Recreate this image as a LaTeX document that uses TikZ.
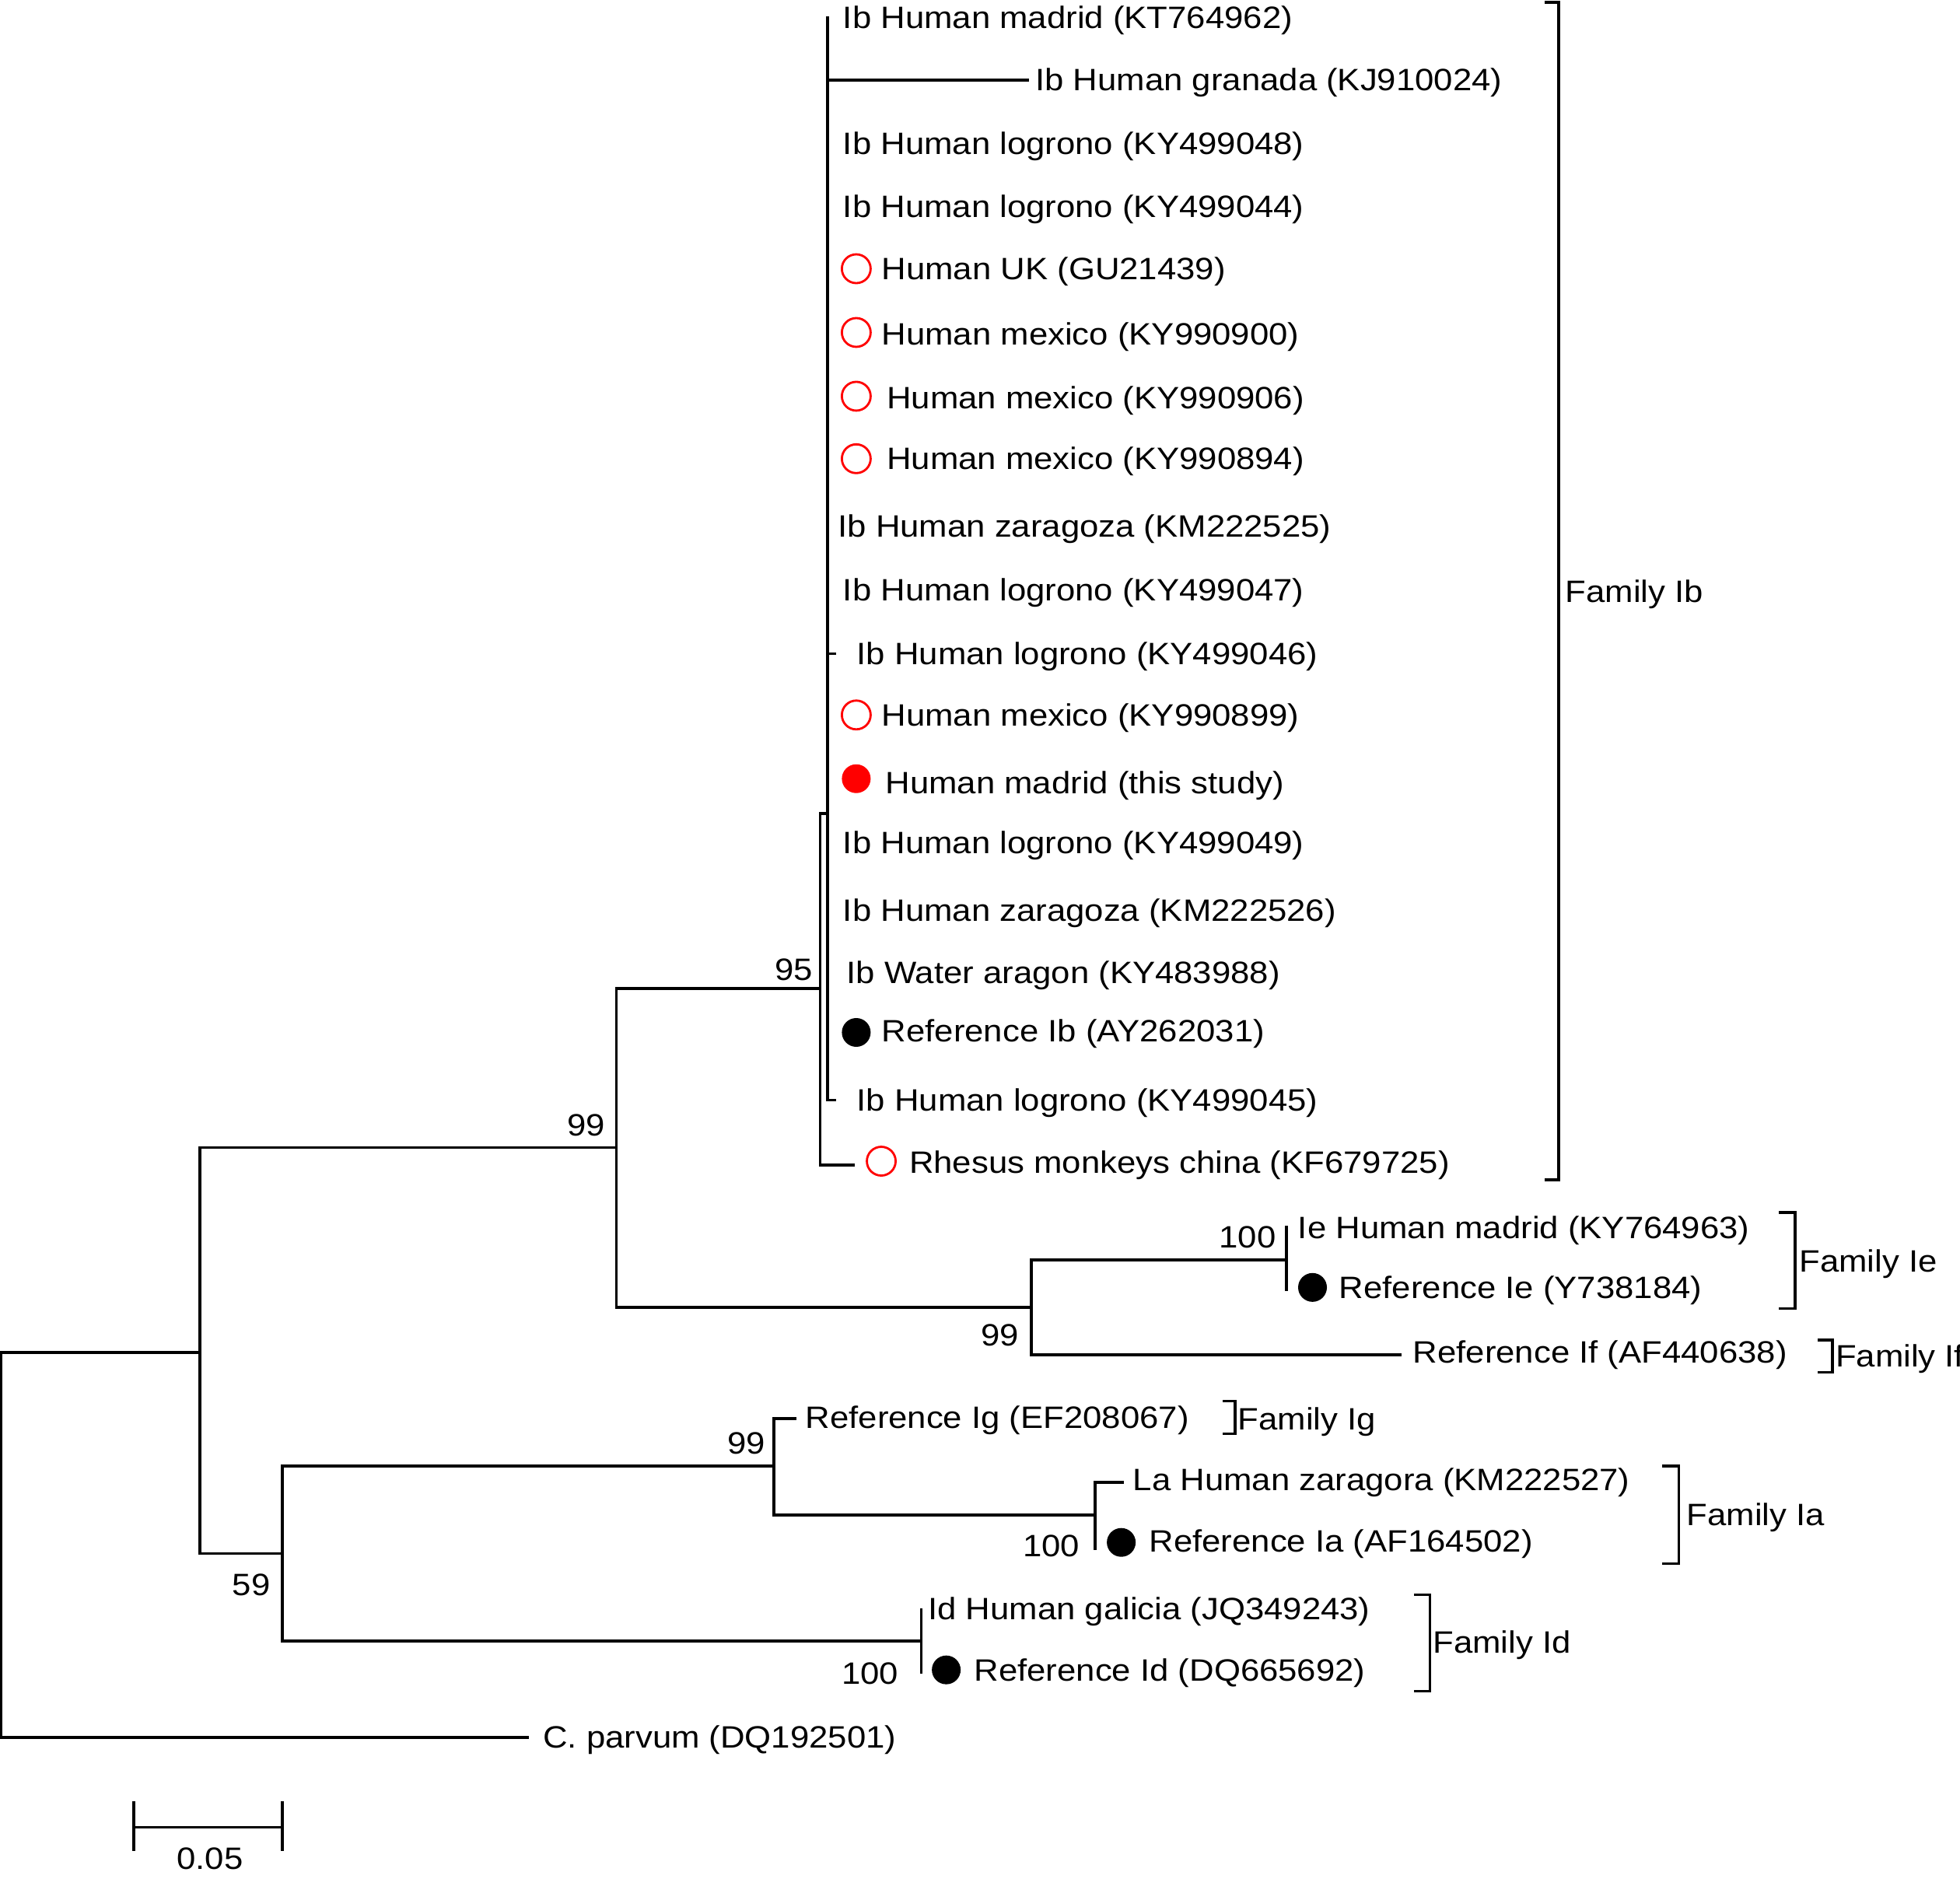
\documentclass[tikz,border=0pt]{standalone}
\usepackage{fontspec}
\setmainfont{Liberation Sans}[FakeStretch=1.1]
\usetikzlibrary{positioning}
\tikzset{
  branch/.style={line width=1pt, line cap=rect},
  taxon/.style={anchor=base west, inner sep=0pt, yshift=-4pt, font=\fontsize{11.3}{13}\selectfont},
  boot/.style={inner sep=0pt, font=\fontsize{11.3}{13}\selectfont},
  openmark/.style={circle, draw=red, line width=0.8pt, minimum size=0.37cm, inner sep=0pt},
  fullmark/.style={circle, fill=#1, minimum size=0.37cm, inner sep=0pt},
  fullmark/.default=black
}

\begin{document}
\begin{tikzpicture}[x=0.0160714cm, y=-0.0160714cm]
\useasboundingbox (0,0) rectangle (1568,1503);

\coordinate (R) at (1,1236);
\coordinate (A) at (160,1082);
\coordinate (B) at (493,918);
\coordinate (C) at (226,1243);
\coordinate (Ib) at (656,791);
\coordinate (Ibi) at (662,651);
\coordinate (IeIf) at (825,1046);
\coordinate (Ie) at (1029,1008);
\coordinate (IgIa) at (619,1173);
\coordinate (Ia) at (876,1212);
\coordinate (Id) at (737,1313);

\coordinate (t1) at (662,14);
\coordinate (t2) at (822,64);
\coordinate (t11) at (668,523);
\coordinate (t18) at (668,880);
\coordinate (t19) at (683,932);
\coordinate (t20) at (1029,982);
\coordinate (t21) at (1029,1032);
\coordinate (t22) at (1120,1084);
\coordinate (t23) at (636,1135);
\coordinate (t24) at (898,1186);
\coordinate (t25) at (876,1239);
\coordinate (t26) at (737,1288);
\coordinate (t27) at (737,1338);
\coordinate (t28) at (422,1390);

\begin{scope}[branch]
\draw (R) |- (A);
\draw (R) |- (t28);
\draw (A) |- (B);
\draw (A) |- (C);
\draw (B) |- (Ib);
\draw (B) |- (IeIf);
\draw (Ib) |- (Ibi);
\draw (Ib) |- (t19);
\draw (Ibi |- t1) -- (Ibi |- t18);
\draw (Ibi |- t2) -- (t2);
\draw (Ibi |- t11) -- (t11);
\draw (Ibi |- t18) -- (t18);
\draw (IeIf) |- (Ie);
\draw (IeIf) |- (t22);
\draw (t20) -- (t21);
\draw (C) |- (IgIa);
\draw (C) |- (Id);
\draw (IgIa) |- (t23);
\draw (IgIa) |- (Ia);
\draw (Ia) |- (t24);
\draw (Ia) -- (t25);
\draw (t26) -- (t27);
\end{scope}

\node[openmark] (m5) at (685,215) {};
\node[openmark] (m6) at (685,266) {};
\node[openmark] (m7) at (685,317) {};
\node[openmark] (m8) at (685,367) {};
\node[openmark] (m12) at (685,572) {};
\node[fullmark=red] (m13) at (685,623) {};
\node[fullmark] (m17) at (685,826) {};
\node[openmark] (m19) at (705,929) {};
\node[fullmark] (m21) at (1050,1030) {};
\node[fullmark] (m25) at (897,1234) {};
\node[fullmark] (m27) at (757,1336) {};

\node[taxon] (l1) at (674,14) {Ib Human madrid (KT764962)};
\node[taxon] (l2) at (828,64) {Ib Human granada (KJ910024)};
\node[taxon] (l3) at (674,115) {Ib Human logrono (KY499048)};
\node[taxon] (l4) at (674,165) {Ib Human logrono (KY499044)};
\node[taxon] (l5) at (705,215) {Human UK (GU21439)};
\node[taxon] (l6) at (705,267) {Human mexico (KY990900)};
\node[taxon] (l7) at (709,318) {Human mexico (KY990906)};
\node[taxon] (l8) at (709,367) {Human mexico (KY990894)};
\node[taxon] (l9) at (670,421) {Ib Human zaragoza (KM222525)};
\node[taxon] (l10) at (674,472) {Ib Human logrono (KY499047)};
\node[taxon] (l11) at (685,523) {Ib Human logrono (KY499046)};
\node[taxon] (l12) at (705,572) {Human mexico (KY990899)};
\node[taxon] (l13) at (708,626) {Human madrid (this study)};
\node[taxon] (l14) at (674,674) {Ib Human logrono (KY499049)};
\node[taxon] (l15) at (674,728) {Ib Human zaragoza (KM222526)};
\node[taxon] (l16) at (677,778) {Ib Water aragon (KY483988)};
\node[taxon] (l17) at (705,825) {Reference Ib (AY262031)};
\node[taxon] (l18) at (685,880) {Ib Human logrono (KY499045)};
\node[taxon] (l19) at (727,930) {Rhesus monkeys china (KF679725)};
\node[taxon] (l20) at (1038,982) {Ie Human madrid (KY764963)};
\node[taxon] (l21) at (1071,1030) {Reference Ie (Y738184)};
\node[taxon] (l22) at (1130,1082) {Reference If (AF440638)};
\node[taxon] (l23) at (644,1134) {Reference Ig (EF208067)};
\node[taxon] (l24) at (906,1184) {La Human zaragora (KM222527)};
\node[taxon] (l25) at (919,1233) {Reference Ia (AF164502)};
\node[taxon] (l26) at (742,1287) {Id Human galicia (JQ349243)};
\node[taxon] (l27) at (779,1336) {Reference Id (DQ665692)};
\node[taxon] (l28) at (434,1390) {C. parvum (DQ192501)};

\node[boot] (b1) at (469,900) {99};
\node[boot] (b2) at (635,776) {95};
\node[boot] (b3) at (800,1068) {99};
\node[boot] (b4) at (998,990) {100};
\node[boot] (b5) at (597,1155) {99};
\node[boot] (b6) at (841,1237) {100};
\node[boot] (b7) at (201,1268) {59};
\node[boot] (b8) at (696,1339) {100};

\begin{scope}[branch]
\draw (1237,2) -- (1247,2) -- (1247,944) -- (1237,944);
\draw (1424,970) -- (1436,970) -- (1436,1047) -- (1424,1047);
\draw (1455,1072) -- (1466,1072) -- (1466,1098) -- (1455,1098);
\draw (979,1121) -- (988,1121) -- (988,1147) -- (979,1147);
\draw (1331,1173) -- (1343,1173) -- (1343,1251) -- (1331,1251);
\draw (1132,1276) -- (1144,1276) -- (1144,1353) -- (1132,1353);
\end{scope}
\node[taxon] (fIb) at (1252,473) {Family Ib};
\node[taxon] (fIe) at (1439,1009) {Family Ie};
\node[taxon] (fIf) at (1468,1085) {Family If};
\node[taxon] (fIg) at (990,1135) {Family Ig};
\node[taxon] (fIa) at (1349,1212) {Family Ia};
\node[taxon] (fId) at (1146,1314) {Family Id};

\coordinate (s1) at (107,1462);
\coordinate (s2) at (226,1462);
\draw[branch] (s1) -- (s2);
\draw[branch] ([yshift=-8]s1) -- ([yshift=9]s1);
\draw[branch] ([yshift=-8]s2) -- ([yshift=9]s2);
\node[boot] (sl) at (168,1487) {0.05};
\end{tikzpicture}
\end{document}
